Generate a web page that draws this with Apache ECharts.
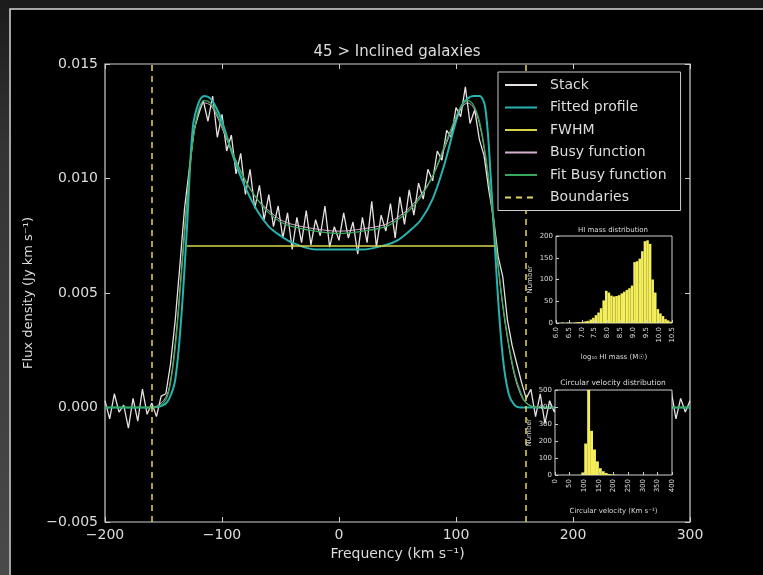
<!DOCTYPE html>
<html><head><meta charset="utf-8">
<script src="https://cdn.jsdelivr.net/npm/echarts@6/dist/echarts.min.js"></script>
<style>html,body{margin:0;padding:0;background:#1b1b1b;}#c{width:763px;height:575px;}</style>
</head><body><div id="c"></div>
<script>
// ---- main spectrum data ----
const velocityStart = -200, velocityStep = 4;
const stackFlux = [
 0.0003,-0.0005,0.0006,-0.0002,0.0001,-0.0009,0.0004,-0.0006,0.0008,-0.0003,0.0002,-0.0004,0.0005,
 0.0006,0.0019,0.0038,0.0062,0.0087,0.0104,0.0121,0.0128,0.0134,0.0125,0.0136,0.0118,0.0128,
 0.0112,0.0119,0.0102,0.0111,0.0093,0.0104,0.0087,0.0097,0.0082,0.0093,0.0079,0.0088,
 0.0074,0.0085,0.0069,0.0083,0.0072,0.0086,0.0071,0.0082,0.0075,0.0088,0.0070,0.0079,
 0.0073,0.0085,0.0074,0.0081,0.0067,0.0083,0.0072,0.0090,0.0070,0.0084,0.0077,0.0089,
 0.0074,0.0092,0.0080,0.0095,0.0084,0.0098,0.0091,0.0104,0.0099,0.0112,0.0108,0.0121,
 0.0118,0.0131,0.0127,0.0140,0.0124,0.0130,0.0117,0.0110,0.0095,0.0083,0.0066,0.0057,
 0.0038,0.0027,0.0019,0.0011,0.0004,0.0008,-0.0004,0.0006,-0.0007,0.0003,-0.0002,0.0005,
 -0.0006,0.0001,0.0004,-0.0003,0.0006,-0.0005,0.0002,-0.0001,0.0005,-0.0004,0.0003,-0.0006,
 0.0002,0.0004,-0.0003,0.0001,-0.0005,0.0006,-0.0002,0.0003,-0.0004,0.0005,0.0001,0.0007,
 -0.0005,0.0004,-0.0002,0.0003
];
const modelVelocity = [-200,-160,-150,-145,-140,-135,-130,-125,-120,-115,-110,-105,-100,-90,-80,-70,-60,-50,-40,-20,0,20,40,50,60,70,80,90,100,105,110,115,120,125,130,135,140,145,150,155,160,170,200,300];
const fittedProfile = [0,0,0.0001,0.0004,0.0012,0.0038,0.0078,0.0122,0.0133,0.0136,0.0135,0.0131,0.0125,0.0109,0.0096,0.0086,0.0079,0.0075,0.0072,0.0069,0.0069,0.0069,0.0071,0.0073,0.0077,0.0082,0.0091,0.0106,0.0125,0.0132,0.0135,0.0136,0.0136,0.0131,0.0098,0.0055,0.0022,0.0006,0.0001,0,0,0,0,0];
const busyFunction = [0,0,0.0003,0.0009,0.0028,0.0058,0.0090,0.0116,0.0129,0.0133,0.0132,0.0128,0.0122,0.0110,0.0099,0.0091,0.0086,0.0082,0.0080,0.0078,0.0077,0.0078,0.0080,0.0083,0.0087,0.0093,0.0101,0.0113,0.0126,0.0131,0.0133,0.0131,0.0124,0.0110,0.0090,0.0066,0.0044,0.0027,0.0014,0.0006,0.0002,0,0,0];
const fitBusyFunction = [0,0,0.0002,0.0008,0.0026,0.0056,0.0089,0.0116,0.0130,0.0134,0.0133,0.0129,0.0123,0.0110,0.0099,0.0091,0.0085,0.0081,0.0079,0.0077,0.0076,0.0077,0.0079,0.0082,0.0086,0.0092,0.0101,0.0114,0.0127,0.0132,0.0134,0.0132,0.0125,0.0111,0.0091,0.0067,0.0045,0.0028,0.0015,0.0007,0.0002,0,0,0];
const fwhmVelocity = [-130, 133];
const fwhmFlux = 0.00705;
const boundaries = [-160, 160];

// ---- inset histograms ----
const hiMassBinStart = 6.0, hiMassBinWidth = 0.1;
const hiMassCounts = [
 0,0,1,0,1,1,0,1,2,2,
 3,4,5,8,12,18,24,34,52,74,
 70,63,61,62,64,68,72,76,80,86,
 140,142,148,165,188,190,182,100,70,32,
 22,16,9,6,3
];
const vcircBinStart = 0, vcircBinWidth = 10;
const vcircCounts = [
 0,0,0,0,0,0,0,0,
 1,15,185,540,260,150,80,40,22,12,6,3,2,1,
 0,0,0,0,0,0,0,0,0,0,0,0,0,0,0,0,0,0
];

const TXT = '#dddddd';
const FONT = 'DejaVu Sans';
const stackData = stackFlux.map((v,i)=>[velocityStart+i*velocityStep, v]);
const pair = arr => modelVelocity.map((x,i)=>[x, arr[i]]);
const hist = (start,w,counts) => counts.map((c,i)=>[start+i*w, start+(i+1)*w, c]);
const minus = s => String(s).replace('-', '\u2212');

function histRender(color){
  return function(params, api){
    const p0 = api.coord([api.value(0), api.value(2)]);
    const p1 = api.coord([api.value(1), 0]);
    const cs = params.coordSys;
    const shape = echarts.graphic.clipRectByRect(
      {x:p0[0], y:p0[1], width:p1[0]-p0[0], height:p1[1]-p0[1]},
      {x:cs.x, y:cs.y, width:cs.width, height:cs.height});
    if (!shape) return;
    return {type:'rect', shape:shape, style:{fill:color}, z2:1};
  };
}

const chart = echarts.init(document.getElementById('c'), null, {renderer:'canvas'});
const insetAxisLabel = {color:TXT, fontSize:7, fontFamily:FONT};
const insetTick = {inside:true, length:3, lineStyle:{color:'#ccc'}};
const noLine = {show:false, onZero:false};
const mainTick = {inside:true, length:5, lineStyle:{color:'#ccc'}};
chart.setOption({
  backgroundColor:'#1b1b1b',
  animation:false,
  graphic:[
    {type:'rect', z:-10, shape:{x:0,y:0,width:9,height:575},
     style:{fill:new echarts.graphic.LinearGradient(0,0,0,1,[{offset:0,color:'#1b1b1b'},{offset:0.25,color:'#333'},{offset:1,color:'#4a4a4a'}])}},
    {type:'rect', z:-10, shape:{x:10,y:9,width:760,height:580},
     style:{fill:'#000', stroke:'#d8d8d8', lineWidth:1.5}},
    {type:'text', z:20, x:397, y:52, style:{text:'45 > Inclined galaxies', fill:TXT, font:'15px "DejaVu Sans"', textAlign:'center', textVerticalAlign:'middle'}},
    {type:'text', z:20, x:613, y:230, style:{text:'HI mass distribution', fill:TXT, font:'7px "DejaVu Sans"', textAlign:'center', textVerticalAlign:'middle'}},
    {type:'text', z:20, x:613, y:383, style:{text:'Circular velocity distribution', fill:TXT, font:'7.5px "DejaVu Sans"', textAlign:'center', textVerticalAlign:'middle'}}
  ],
  legend:{
    show:true, orient:'vertical', left:498, top:72, selectedMode:false,
    backgroundColor:'#000', borderColor:'#cccccc', borderWidth:1, borderRadius:0,
    padding:[6,14,6,6], itemGap:8.5, itemWidth:32, itemHeight:14,
    itemStyle:{opacity:0},
    textStyle:{color:TXT, fontSize:14, fontFamily:FONT, padding:[0,0,0,8]},
    data:['Stack','Fitted profile','FWHM','Busy function','Fit Busy function','Boundaries'],
    z:8
  },
  grid:[
    {left:105, top:64, width:585, height:458, show:true, borderColor:'#cfcfcf', borderWidth:1.2, backgroundColor:'transparent'},
    {left:556, top:236, width:116, height:87, show:true, borderColor:'#cfcfcf', borderWidth:1, backgroundColor:'#000', z:10},
    {left:555, top:390, width:117, height:85, show:true, borderColor:'#cfcfcf', borderWidth:1, backgroundColor:'#000', z:10}
  ],
  xAxis:[
    {gridIndex:0, type:'value', min:-200, max:300, interval:100, position:'bottom',
     axisLine:noLine, splitLine:{show:false}, axisTick:mainTick,
     axisLabel:{color:TXT, fontSize:14, fontFamily:FONT, margin:6, formatter:v=>minus(v)},
     name:'Frequency (km s\u207B\u00B9)', nameLocation:'middle', nameGap:25,
     nameTextStyle:{color:TXT, fontSize:14, fontFamily:FONT}},
    {gridIndex:0, type:'value', min:-200, max:300, interval:100, position:'top',
     axisLine:noLine, splitLine:{show:false}, axisLabel:{show:false}, axisTick:mainTick},
    {gridIndex:1, type:'value', min:6.0, max:10.5, interval:0.5, z:11,
     axisLine:noLine, splitLine:{show:false}, axisTick:insetTick,
     axisLabel:Object.assign({rotate:90, margin:4, formatter:v=>v.toFixed(1)}, insetAxisLabel),
     name:'log\u2081\u2080 HI mass (M\u2609)', nameLocation:'middle', nameGap:31,
     nameTextStyle:{color:TXT, fontSize:7, fontFamily:FONT}},
    {gridIndex:2, type:'value', min:0, max:400, interval:50, z:11,
     axisLine:noLine, splitLine:{show:false}, axisTick:insetTick,
     axisLabel:Object.assign({rotate:90, margin:4}, insetAxisLabel),
     name:'Circular velocity (Km s\u207B\u00B9)', nameLocation:'middle', nameGap:33,
     nameTextStyle:{color:TXT, fontSize:7, fontFamily:FONT}}
  ],
  yAxis:[
    {gridIndex:0, type:'value', min:-0.005, max:0.015, interval:0.005,
     axisLine:noLine, splitLine:{show:false}, axisTick:mainTick,
     axisLabel:{color:TXT, fontSize:14, fontFamily:FONT, margin:7, formatter:v=>(v<0?'\u2212':'')+Math.abs(v).toFixed(3)},
     name:'Flux density (Jy km s\u207B\u00B9)', nameLocation:'middle', nameGap:70,
     nameTextStyle:{color:TXT, fontSize:13, fontFamily:FONT}},
    {gridIndex:0, type:'value', min:-0.005, max:0.015, interval:0.005, position:'right',
     axisLine:noLine, splitLine:{show:false}, axisLabel:{show:false}, axisTick:mainTick},
    {gridIndex:1, type:'value', min:0, max:200, interval:50, z:11,
     axisLine:noLine, splitLine:{show:false}, axisTick:insetTick,
     axisLabel:Object.assign({margin:3}, insetAxisLabel),
     name:'Number', nameLocation:'middle', nameGap:22,
     nameTextStyle:{color:TXT, fontSize:7, fontFamily:FONT}},
    {gridIndex:2, type:'value', min:0, max:500, interval:100, z:11,
     axisLine:noLine, splitLine:{show:false}, axisTick:insetTick,
     axisLabel:Object.assign({margin:3}, insetAxisLabel),
     name:'Number', nameLocation:'middle', nameGap:22,
     nameTextStyle:{color:TXT, fontSize:7, fontFamily:FONT}}
  ],
  series:[
    {name:'Stack', type:'line', xAxisIndex:0, yAxisIndex:0, data:stackData, symbol:'none',
     lineStyle:{color:'#e8e2e2', width:1.3}, itemStyle:{color:'#e8e2e2'}, z:3},
    {name:'Fitted profile', type:'line', xAxisIndex:0, yAxisIndex:0, data:pair(fittedProfile), symbol:'none', smooth:0.35,
     lineStyle:{color:'#27b3b0', width:2}, itemStyle:{color:'#27b3b0'}, z:4},
    {name:'FWHM', type:'line', xAxisIndex:0, yAxisIndex:0, data:fwhmVelocity.map(x=>[x,fwhmFlux]), symbol:'none',
     lineStyle:{color:'#d8d44a', width:1.5}, itemStyle:{color:'#d8d44a'}, z:4},
    {name:'Busy function', type:'line', xAxisIndex:0, yAxisIndex:0, data:pair(busyFunction), symbol:'none', smooth:0.35,
     lineStyle:{color:'#d6b0d2', width:1}, itemStyle:{color:'#d6b0d2'}, z:4},
    {name:'Fit Busy function', type:'line', xAxisIndex:0, yAxisIndex:0, data:pair(fitBusyFunction), symbol:'none', smooth:0.35,
     lineStyle:{color:'#3aa85a', width:1.3}, itemStyle:{color:'#3aa85a'}, z:4},
    {name:'Boundaries', type:'line', xAxisIndex:0, yAxisIndex:0, data:[], symbol:'none',
     lineStyle:{color:'#e2d85a', width:1.5, type:[6,5]}, itemStyle:{color:'#e2d85a'}, z:4,
     markLine:{silent:true, symbol:'none', label:{show:false},
       lineStyle:{color:'#e2d85a', width:1.5, type:[6,5]},
       data:boundaries.map(b=>({xAxis:b}))}},
    {name:'HI mass', type:'custom', xAxisIndex:2, yAxisIndex:2, renderItem:histRender('#f4ee5a'),
     encode:{x:[0,1], y:2}, data:hist(hiMassBinStart,hiMassBinWidth,hiMassCounts), z:11},
    {name:'Vcirc', type:'custom', xAxisIndex:3, yAxisIndex:3, renderItem:histRender('#f4ee5a'),
     encode:{x:[0,1], y:2}, data:hist(vcircBinStart,vcircBinWidth,vcircCounts), z:11}
  ]
});
</script></body></html>
